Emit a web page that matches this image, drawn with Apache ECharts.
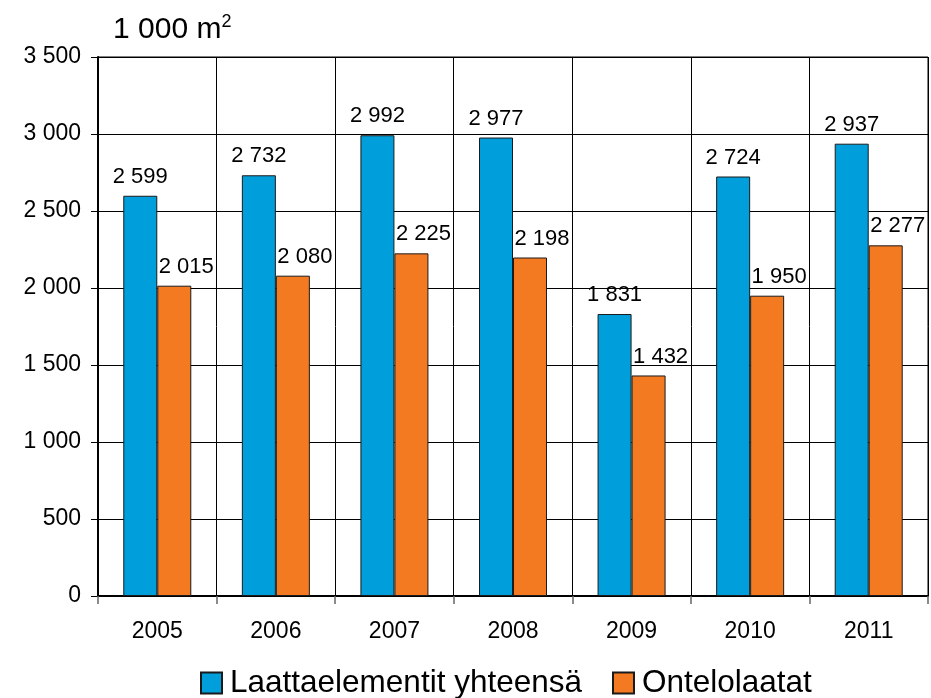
<!DOCTYPE html>
<html>
<head>
<meta charset="utf-8">
<script src="https://cdn.jsdelivr.net/npm/echarts@6/dist/echarts.min.js"></script>
<style>
  html, body { margin: 0; padding: 0; background: #fff; }
  #chart { width: 931px; height: 698px; }
</style>
</head>
<body>
<div id="chart"></div>
<script>
const years = ['2005', '2006', '2007', '2008', '2009', '2010', '2011']
const laattaelementit = [2599, 2732, 2992, 2977, 1831, 2724, 2937]
const ontelolaatat = [2015, 2080, 2225, 2198, 1432, 1950, 2277]
const seriesNames = ['Laattaelementit yhteensä', 'Ontelolaatat']

// väli tuhaterottimeksi
const fmt = (v) => String(v).replace(/\B(?=(\d{3})+(?!\d))/g, ' ')
const font = 'Liberation Sans, Arial, sans-serif'

const chart = echarts.init(document.getElementById('chart'))
chart.setOption({
  animation: false,
  textStyle: { fontFamily: font },
  title: {
    text: '{a|1 000 m}{s|2}',
    left: 108,
    top: 8,
    textStyle: {
      fontWeight: 'normal',
      rich: {
        a: { fontSize: 30, color: '#000', fontFamily: font, fontWeight: 'normal' },
        s: { fontSize: 18, color: '#000', fontFamily: font, fontWeight: 'normal', verticalAlign: 'top', padding: [0, 0, 16, 0] }
      }
    }
  },
  grid: {
    left: 98,
    right: 3,
    top: 57,
    bottom: 102,
    show: true,
    borderColor: '#000',
    borderWidth: 1
  },
  legend: {
    data: seriesNames,
    left: 195,
    top: 662,
    itemWidth: 21,
    itemHeight: 21,
    itemGap: 30,
    icon: 'rect',
    textStyle: { fontSize: 31.5, color: '#000', fontFamily: font, padding: [0, 0, 0, 3] }
  },
  xAxis: {
    type: 'category',
    data: years,
    axisLine: { lineStyle: { color: '#000', width: 2 } },
    axisTick: { show: true, length: 8, lineStyle: { color: '#666', width: 1.5 } },
    splitLine: { show: true, lineStyle: { color: '#000', width: 1 } },
    axisLabel: { fontSize: 23, color: '#000', margin: 24 }
  },
  yAxis: {
    type: 'value',
    min: 0,
    max: 3500,
    interval: 500,
    axisLine: { show: true, lineStyle: { color: '#000', width: 2 } },
    axisTick: { show: true, length: 7, lineStyle: { color: '#000' } },
    splitLine: { show: true, lineStyle: { color: '#000', width: 1 } },
    axisLabel: { fontSize: 23, color: '#000', margin: 17, formatter: fmt }
  },
  series: [
    {
      name: seriesNames[0],
      type: 'bar',
      data: laattaelementit,
      barWidth: 34,
      barGap: '0%',
      itemStyle: { color: '#009FDB', borderColor: '#1a1a1a', borderWidth: 1 },
      label: {
        show: true,
        position: 'top',
        distance: 8,
        fontSize: 22,
        color: '#000',
        formatter: (p) => fmt(p.value)
      }
    },
    {
      name: seriesNames[1],
      type: 'bar',
      data: ontelolaatat,
      barWidth: 34,
      itemStyle: { color: '#F47A22', borderColor: '#1a1a1a', borderWidth: 1 },
      label: {
        show: true,
        position: 'top',
        distance: 8,
        offset: [12, 0],
        fontSize: 22,
        color: '#000',
        formatter: (p) => fmt(p.value)
      }
    }
  ]
})
</script>
</body>
</html>
